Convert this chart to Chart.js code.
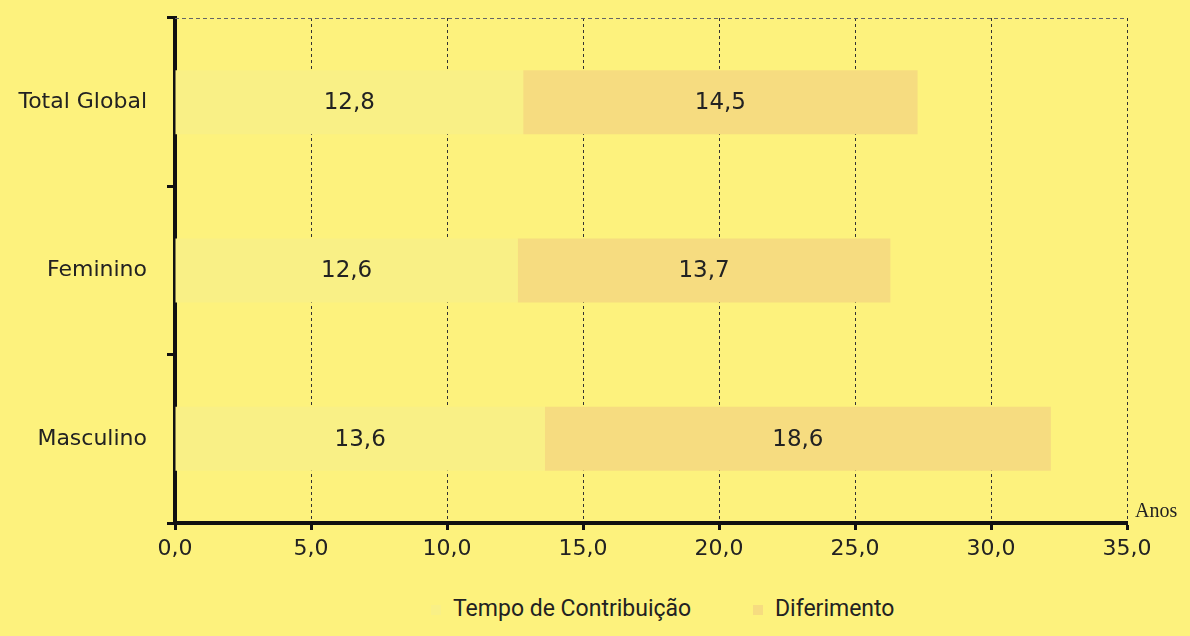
<!DOCTYPE html>
<html>
<head>
<meta charset="utf-8">
<script src="https://cdn.jsdelivr.net/npm/chart.js@4.4.1/dist/chart.umd.min.js"></script>
<style>
  body { margin: 0; background: #fdf27d; }
  #wrap { position: relative; width: 1190px; height: 636px; }
  #legend { position: absolute; top: 592px; left: 0; width: 1190px; height: 40px;
    font-family: 'Liberation Sans Narrow', 'Roboto', sans-serif; font-size: 23px; color: #222; }
  #legend .item { position: absolute; top: 0; line-height: 34px; white-space: nowrap; }
  #legend .box { display: inline-block; width: 10px; height: 10px; margin-right: 12px; vertical-align: middle; }
</style>
</head>
<body>
<div id="wrap">
  <canvas id="myChart" width="1190" height="586"></canvas>
  <div id="legend"></div>
</div>
<script>
'use strict';

// data
var categories = ['Total Global', 'Feminino', 'Masculino'];
var seriesNames = ['Tempo de Contribuição', 'Diferimento'];
var tempoContribuicao = [12.8, 12.6, 13.6];
var diferimento = [14.5, 13.7, 18.6];
var xTickLabels = ['0,0', '5,0', '10,0', '15,0', '20,0', '25,0', '30,0', '35,0'];

var colors = ['#f9f086', '#f6dc80'];

function fmt(v) {
  return v.toFixed(1).replace('.', ',');
}

// value labels in the middle of each bar
var barLabels = {
  id: 'barLabels',
  afterDatasetsDraw: function(chart) {
    var ctx = chart.ctx;
    ctx.save();
    ctx.font = '23px "DejaVu Sans"';
    ctx.fillStyle = '#222';
    ctx.textAlign = 'center';
    ctx.textBaseline = 'middle';
    chart.data.datasets.forEach(function(ds, i) {
      chart.getDatasetMeta(i).data.forEach(function(bar, j) {
        ctx.fillText(fmt(ds.data[j]), (bar.x + bar.base) / 2, bar.y + 1);
      });
    });
    ctx.restore();
  }
};

// dashed top border and the "Anos" unit at the end of the axis
var frame = {
  id: 'frame',
  beforeDatasetsDraw: function(chart) {
    var a = chart.chartArea;
    var ctx = chart.ctx;
    ctx.save();
    ctx.strokeStyle = '#666';
    ctx.lineWidth = 1;
    ctx.setLineDash([4, 3]);
    ctx.beginPath();
    ctx.moveTo(a.left, a.top + 0.5);
    ctx.lineTo(a.right, a.top + 0.5);
    ctx.stroke();
    ctx.restore();
  },
  afterDraw: function(chart) {
    var a = chart.chartArea;
    var ctx = chart.ctx;
    ctx.save();
    ctx.font = '20px "Liberation Serif"';
    ctx.fillStyle = '#222';
    ctx.textBaseline = 'alphabetic';
    ctx.fillText('Anos', a.right + 8, a.bottom - 6);
    ctx.restore();
  }
};

var ctx = document.getElementById('myChart').getContext('2d');

var chart = new Chart(ctx, {
  type: 'bar',
  data: {
    labels: categories,
    datasets: [{
      label: seriesNames[0],
      data: tempoContribuicao,
      backgroundColor: colors[0]
    },
    {
      label: seriesNames[1],
      data: diferimento,
      backgroundColor: colors[1]
    }]
  },
  options: {
    indexAxis: 'y',
    responsive: false,
    devicePixelRatio: 1,
    animation: false,
    categoryPercentage: 1,
    barPercentage: 0.38,
    layout: { padding: { top: 18, right: 63, left: 0, bottom: 0 } },
    plugins: {
      legend: { display: false },
      tooltip: { enabled: false }
    },
    scales: {
      x: {
        stacked: true,
        min: 0,
        max: 35,
        afterFit: function(s) { s.height = 63; },
        afterBuildTicks: function(s) {
          s.ticks = xTickLabels.map(function(t, i) { return { value: i * 5 }; });
        },
        ticks: {
          callback: function(v, i) { return xTickLabels[i]; },
          font: { family: 'DejaVu Sans', size: 22 },
          color: '#222',
          padding: 6,
          maxRotation: 0
        },
        grid: {
          color: '#333',
          lineWidth: 1,
          tickLength: 7,
          tickWidth: 3,
          tickColor: '#111',
          tickBorderDash: []
        },
        border: { color: '#111', width: 4, dash: [3, 3] }
      },
      y: {
        stacked: true,
        afterFit: function(s) {
          s.width = 175;
          s.paddingTop = 0;
          s.paddingBottom = 0;
        },
        ticks: {
          font: { family: 'DejaVu Sans', size: 22 },
          color: '#222',
          padding: 20
        },
        grid: {
          drawOnChartArea: false,
          tickLength: 8,
          tickWidth: 3,
          tickColor: '#111'
        },
        border: { color: '#111', width: 4 }
      }
    }
  },
  plugins: [barLabels, frame]
});

// legend under the chart
var legendLeft = [431, 753];
var legend = document.getElementById('legend');
chart.data.datasets.forEach(function(ds, i) {
  var item = document.createElement('span');
  item.className = 'item';
  item.style.left = legendLeft[i] + 'px';
  var box = document.createElement('span');
  box.className = 'box';
  box.style.background = ds.backgroundColor;
  item.appendChild(box);
  item.appendChild(document.createTextNode(ds.label));
  legend.appendChild(item);
});
</script>
</body>
</html>
